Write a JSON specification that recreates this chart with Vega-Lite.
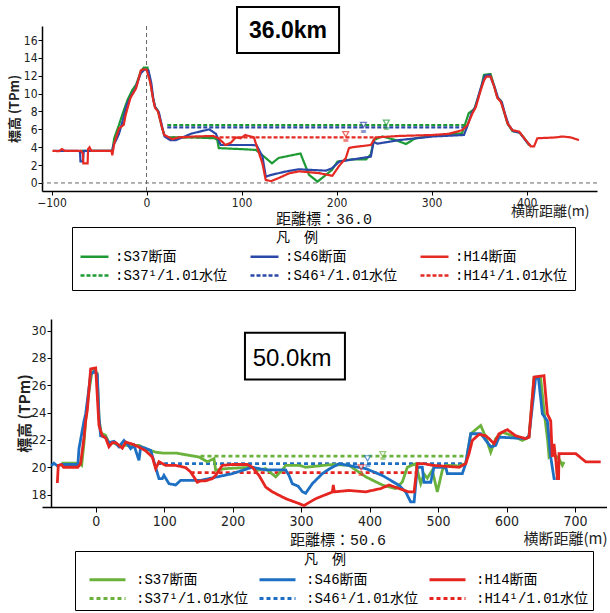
{
"$schema": "https://vega.github.io/schema/vega-lite/v6.json",
"background": "white",
"padding": {"left": 8, "top": 6, "right": 0, "bottom": 0},
"config": {"view": {"stroke": null},
  "axis": {"grid": false, "labelOverlap": false, "tickCount": 30, "format": "d", "domainColor": "black", "domainWidth": 1.5, "tickColor": "black", "tickWidth": 1, "labelColor": "#222", "titleColor": "#222", "labelFont": "Liberation Sans Narrow, DejaVu Sans Condensed, Liberation Sans, sans-serif", "titleFont": "Noto Sans CJK JP"}},
"spacing": 28,
"resolve": {"scale": {"x": "independent", "y": "independent", "color": "independent", "strokeDash": "independent", "stroke": "independent", "fill": "independent"}, "legend": {"color": "independent", "strokeDash": "independent"}},
"datasets": {
"top": [
{"s":":S37¹/1.01水位","x":21.8,"y":6.49},{"s":":S37¹/1.01水位","x":336,"y":6.49},
{"s":":S46¹/1.01水位","x":21.8,"y":6.23},{"s":":S46¹/1.01水位","x":336,"y":6.23},
{"s":":H14¹/1.01水位","x":20,"y":5.11},{"s":":H14¹/1.01水位","x":241,"y":5.11},
{"s":":S37断面","x":-70,"y":3.6},{"s":":S37断面","x":-36,"y":3.6},{"s":":S37断面","x":-35,"y":4.3},{"s":":S37断面","x":-34,"y":5.0},{"s":":S37断面","x":-29,"y":6.5},{"s":":S37断面","x":-25,"y":7.8},{"s":":S37断面","x":-20,"y":9.3},{"s":":S37断面","x":-15,"y":10.4},{"s":":S37断面","x":-11,"y":11.0},{"s":":S37断面","x":-6,"y":12.5},{"s":":S37断面","x":-3,"y":12.9},{"s":":S37断面","x":1,"y":12.9},{"s":":S37断面","x":4,"y":11.3},{"s":":S37断面","x":7,"y":9.4},{"s":":S37断面","x":9,"y":8.5},{"s":":S37断面","x":12,"y":8.1},{"s":":S37断面","x":16,"y":6.3},{"s":":S37断面","x":19,"y":5.3},{"s":":S37断面","x":22,"y":5.1},{"s":":S37断面","x":30,"y":5.1},{"s":":S37断面","x":50,"y":5.1},{"s":":S37断面","x":72,"y":5.0},{"s":":S37断面","x":74.5,"y":4.8},{"s":":S37断面","x":76,"y":3.9},{"s":":S37断面","x":97,"y":3.8},{"s":":S37断面","x":115,"y":3.7},{"s":":S37断面","x":122,"y":3.1},{"s":":S37断面","x":132,"y":2.2},{"s":":S37断面","x":139,"y":2.8},{"s":":S37断面","x":162,"y":3.3},{"s":":S37断面","x":171,"y":0.9},{"s":":S37断面","x":180,"y":0.15},{"s":":S37断面","x":195,"y":1.45},{"s":":S37断面","x":201,"y":2.4},{"s":":S37断面","x":217,"y":2.65},{"s":":S37断面","x":231,"y":2.65},{"s":":S37断面","x":236,"y":3.2},{"s":":S37断面","x":239,"y":4.8},{"s":":S37断面","x":248,"y":5.2},{"s":":S37断面","x":262,"y":4.8},{"s":":S37断面","x":273,"y":4.36},{"s":":S37断面","x":283,"y":5.0},{"s":":S37断面","x":301,"y":5.26},{"s":":S37断面","x":332,"y":5.56},{"s":":S37断面","x":339,"y":7.8},{"s":":S37断面","x":345,"y":8.3},{"s":":S37断面","x":352,"y":10.6},{"s":":S37断面","x":355,"y":12.1},{"s":":S37断面","x":362,"y":12.2},{"s":":S37断面","x":366,"y":10.8},{"s":":S37断面","x":369,"y":9.6},{"s":":S37断面","x":373,"y":9.2},{"s":":S37断面","x":376,"y":8.0},{"s":":S37断面","x":380,"y":6.6},{"s":":S37断面","x":385,"y":5.8},{"s":":S37断面","x":392,"y":5.7},{"s":":S37断面","x":399,"y":4.8},{"s":":S37断面","x":402,"y":4.3},{"s":":S37断面","x":404,"y":4.2},
{"s":":S46断面","x":-98,"y":3.6},{"s":":S46断面","x":-72,"y":3.6},{"s":":S46断面","x":-70,"y":3.5},{"s":":S46断面","x":-69.5,"y":2.4},{"s":":S46断面","x":-67,"y":2.4},{"s":":S46断面","x":-66,"y":3.6},{"s":":S46断面","x":-36,"y":3.6},{"s":":S46断面","x":-35,"y":4.2},{"s":":S46断面","x":-32,"y":4.8},{"s":":S46断面","x":-29,"y":5.5},{"s":":S46断面","x":-25,"y":7.0},{"s":":S46断面","x":-21,"y":8.7},{"s":":S46断面","x":-16,"y":9.8},{"s":":S46断面","x":-12,"y":10.5},{"s":":S46断面","x":-6,"y":12.3},{"s":":S46断面","x":-2,"y":12.7},{"s":":S46断面","x":2,"y":12.6},{"s":":S46断面","x":5,"y":11.2},{"s":":S46断面","x":7,"y":9.5},{"s":":S46断面","x":9,"y":8.5},{"s":":S46断面","x":13,"y":7.9},{"s":":S46断面","x":17,"y":6.0},{"s":":S46断面","x":19,"y":5.2},{"s":":S46断面","x":25,"y":4.8},{"s":":S46断面","x":31,"y":4.8},{"s":":S46断面","x":48,"y":5.55},{"s":":S46断面","x":66,"y":6.0},{"s":":S46断面","x":73,"y":5.5},{"s":":S46断面","x":78,"y":4.25},{"s":":S46断面","x":111,"y":4.25},{"s":":S46断面","x":116,"y":4.2},{"s":":S46断面","x":122,"y":2.95},{"s":":S46断面","x":125.5,"y":0.7},{"s":":S46断面","x":131,"y":0.9},{"s":":S46断面","x":146,"y":1.27},{"s":":S46断面","x":160,"y":1.53},{"s":":S46断面","x":189,"y":1.38},{"s":":S46断面","x":195,"y":1.64},{"s":":S46断面","x":203,"y":2.4},{"s":":S46断面","x":236,"y":2.95},{"s":":S46断面","x":239,"y":4.6},{"s":":S46断面","x":243,"y":4.4},{"s":":S46断面","x":266,"y":4.8},{"s":":S46断面","x":301,"y":5.2},{"s":":S46断面","x":334,"y":5.37},{"s":":S46断面","x":338,"y":6.5},{"s":":S46断面","x":342,"y":7.8},{"s":":S46断面","x":346,"y":8.5},{"s":":S46断面","x":351,"y":10.4},{"s":":S46断面","x":356,"y":12.0},{"s":":S46断面","x":361,"y":12.1},{"s":":S46断面","x":366,"y":10.8},{"s":":S46断面","x":370,"y":9.5},{"s":":S46断面","x":374,"y":9.0},{"s":":S46断面","x":377,"y":7.8},{"s":":S46断面","x":381,"y":6.5},{"s":":S46断面","x":386,"y":5.8},{"s":":S46断面","x":393,"y":5.6},{"s":":S46断面","x":400,"y":4.6},{"s":":S46断面","x":404,"y":4.2},
{"s":":H14断面","x":-99,"y":3.6},{"s":":H14断面","x":-92,"y":3.55},{"s":":H14断面","x":-89,"y":3.8},{"s":":H14断面","x":-86,"y":3.6},{"s":":H14断面","x":-69,"y":3.6},{"s":":H14断面","x":-67,"y":3.3},{"s":":H14断面","x":-66.5,"y":2.2},{"s":":H14断面","x":-62,"y":2.2},{"s":":H14断面","x":-61.5,"y":3.8},{"s":":H14断面","x":-60,"y":4.0},{"s":":H14断面","x":-58,"y":3.6},{"s":":H14断面","x":-37,"y":3.6},{"s":":H14断面","x":-36,"y":3.1},{"s":":H14断面","x":-34,"y":4.4},{"s":":H14断面","x":-29,"y":6.1},{"s":":H14断面","x":-24,"y":6.5},{"s":":H14断面","x":-22,"y":7.6},{"s":":H14断面","x":-17,"y":9.5},{"s":":H14断面","x":-11,"y":10.6},{"s":":H14断面","x":-6,"y":12.6},{"s":":H14断面","x":-4,"y":12.7},{"s":":H14断面","x":0,"y":12.7},{"s":":H14断面","x":4,"y":11.2},{"s":":H14断面","x":7,"y":9.3},{"s":":H14断面","x":9,"y":8.4},{"s":":H14断面","x":12,"y":8.0},{"s":":H14断面","x":16.6,"y":6.1},{"s":":H14断面","x":18.4,"y":5.4},{"s":":H14断面","x":22,"y":5.2},{"s":":H14断面","x":27,"y":4.9},{"s":":H14断面","x":34,"y":5.1},{"s":":H14断面","x":50,"y":5.2},{"s":":H14断面","x":70,"y":5.26},{"s":":H14断面","x":76,"y":5.0},{"s":":H14断面","x":83,"y":4.25},{"s":":H14断面","x":88.6,"y":4.5},{"s":":H14断面","x":94,"y":5.1},{"s":":H14断面","x":99,"y":5.0},{"s":":H14断面","x":104,"y":5.37},{"s":":H14断面","x":113,"y":5.1},{"s":":H14断面","x":116.6,"y":3.9},{"s":":H14断面","x":121.9,"y":2.2},{"s":":H14断面","x":125.4,"y":0.34},{"s":":H14断面","x":131,"y":0.2},{"s":":H14断面","x":139,"y":0.55},{"s":":H14断面","x":150,"y":1.08},{"s":":H14断面","x":160.5,"y":1.3},{"s":":H14断面","x":181.5,"y":1.1},{"s":":H14断面","x":195.5,"y":0.8},{"s":":H14断面","x":202.6,"y":1.9},{"s":":H14断面","x":209.6,"y":2.76},{"s":":H14断面","x":213,"y":3.9},{"s":":H14断面","x":216.6,"y":4.0},{"s":":H14断面","x":236,"y":4.25},{"s":":H14断面","x":241,"y":5.1},{"s":":H14断面","x":265.7,"y":5.26},{"s":":H14断面","x":300.8,"y":5.37},{"s":":H14断面","x":318,"y":5.5},{"s":":H14断面","x":332,"y":5.9},{"s":":H14断面","x":337.5,"y":6.45},{"s":":H14断面","x":343,"y":7.8},{"s":":H14断面","x":346.5,"y":8.5},{"s":":H14断面","x":351.7,"y":10.4},{"s":":H14断面","x":355.2,"y":11.5},{"s":":H14断面","x":357.6,"y":11.9},{"s":":H14断面","x":362.2,"y":11.9},{"s":":H14断面","x":365.7,"y":10.8},{"s":":H14断面","x":369.2,"y":9.5},{"s":":H14断面","x":372.7,"y":9.1},{"s":":H14断面","x":376.2,"y":8.0},{"s":":H14断面","x":379.7,"y":6.7},{"s":":H14断面","x":385,"y":5.9},{"s":":H14断面","x":392,"y":5.75},{"s":":H14断面","x":399,"y":4.8},{"s":":H14断面","x":404.3,"y":4.1},{"s":":H14断面","x":407.8,"y":4.1},{"s":":H14断面","x":411.2,"y":5.0},{"s":":H14断面","x":430.6,"y":5.1},{"s":":H14断面","x":437.6,"y":5.2},{"s":":H14断面","x":446.3,"y":5.1},{"s":":H14断面","x":455,"y":4.8}
],
"topMk": [
{"s":":S37¹/1.01水位","x":252.3,"y":6.75,"yl":6.0},
{"s":":S46¹/1.01水位","x":228.2,"y":6.5,"yl":5.75},
{"s":":H14¹/1.01水位","x":209.6,"y":5.45,"yl":4.7}
],
"bot": [
{"s":":S37¹/1.01水位","x":153,"y":20.82},{"s":":S37¹/1.01水位","x":540,"y":20.82},
{"s":":S46¹/1.01水位","x":89.6,"y":20.26},{"s":":S46¹/1.01水位","x":540,"y":20.26},
{"s":":H14¹/1.01水位","x":138.7,"y":19.6},{"s":":H14¹/1.01水位","x":467,"y":19.6},
{"s":":S37断面","x":-50,"y":20.3},{"s":":S37断面","x":-24.4,"y":20.3},{"s":":S37断面","x":-20.5,"y":20.14},{"s":":S37断面","x":-17,"y":21.8},{"s":":S37断面","x":-14.6,"y":23.5},{"s":":S37断面","x":-10,"y":25.5},{"s":":S37断面","x":-6,"y":26.8},{"s":":S37断面","x":-2.4,"y":27.1},{"s":":S37断面","x":2,"y":26.9},{"s":":S37断面","x":5,"y":23.5},{"s":":S37断面","x":8,"y":22.5},{"s":":S37断面","x":14.6,"y":22.33},{"s":":S37断面","x":20,"y":21.7},{"s":":S37断面","x":25,"y":21.8},{"s":":S37断面","x":34,"y":21.6},{"s":":S37断面","x":63.2,"y":21.6},{"s":":S37断面","x":75,"y":21.3},{"s":":S37断面","x":87.6,"y":21.1},{"s":":S37断面","x":97.3,"y":21.04},{"s":":S37断面","x":116.8,"y":21.04},{"s":":S37断面","x":150.9,"y":20.75},{"s":":S37断面","x":163,"y":20.4},{"s":":S37断面","x":172.8,"y":20.63},{"s":":S37断面","x":175.2,"y":19.78},{"s":":S37断面","x":190,"y":19.9},{"s":":S37断面","x":228.7,"y":20.0},{"s":":S37断面","x":236,"y":19.78},{"s":":S37断面","x":248,"y":19.9},{"s":":S37断面","x":262.9,"y":19.3},{"s":":S37断面","x":272.6,"y":19.8},{"s":":S37断面","x":277.5,"y":20.14},{"s":":S37断面","x":297,"y":20.14},{"s":":S37断面","x":306.7,"y":20.0},{"s":":S37断面","x":345.6,"y":20.2},{"s":":S37断面","x":370,"y":20.14},{"s":":S37断面","x":394.3,"y":19.3},{"s":":S37断面","x":418.6,"y":18.7},{"s":":S37断面","x":438.1,"y":18.44},{"s":":S37断面","x":447.8,"y":18.92},{"s":":S37断面","x":455.1,"y":20.0},{"s":":S37断面","x":467.2,"y":20.26},{"s":":S37断面","x":474.7,"y":18.8},{"s":":S37断面","x":479.4,"y":19.5},{"s":":S37断面","x":484.3,"y":19.2},{"s":":S37断面","x":491.6,"y":19.78},{"s":":S37断面","x":498.9,"y":18.19},{"s":":S37断面","x":506.2,"y":19.78},{"s":":S37断面","x":511,"y":20.14},{"s":":S37断面","x":530.6,"y":20.1},{"s":":S37断面","x":540.3,"y":20.26},{"s":":S37断面","x":547.7,"y":22.45},{"s":":S37断面","x":562.3,"y":23.06},{"s":":S37断面","x":569.6,"y":22.2},{"s":":S37断面","x":576.9,"y":21.1},{"s":":S37断面","x":584.2,"y":22.1},{"s":":S37断面","x":593.9,"y":22.57},{"s":":S37断面","x":608.6,"y":22.3},{"s":":S37断面","x":623.1,"y":21.96},{"s":":S37断面","x":632.8,"y":22.2},{"s":":S37断面","x":640.1,"y":26.5},{"s":":S37断面","x":649.9,"y":26.5},{"s":":S37断面","x":655,"y":24.0},{"s":":S37断面","x":660,"y":22.0},{"s":":S37断面","x":662.1,"y":20.75},{"s":":S37断面","x":668,"y":21.0},{"s":":S37断面","x":676.6,"y":20.6},{"s":":S37断面","x":681.5,"y":20.14},{"s":":S37断面","x":684,"y":20.4},
{"s":":S46断面","x":-65,"y":20.1},{"s":":S46断面","x":-61,"y":20.3},{"s":":S46断面","x":-56,"y":20.1},{"s":":S46断面","x":-50,"y":20.2},{"s":":S46断面","x":-26,"y":20.2},{"s":":S46断面","x":-24.4,"y":21.36},{"s":":S46断面","x":-17,"y":23.4},{"s":":S46断面","x":-14.6,"y":23.9},{"s":":S46断面","x":-7.3,"y":26.8},{"s":":S46断面","x":-2.4,"y":27.0},{"s":":S46断面","x":2.4,"y":26.8},{"s":":S46断面","x":4.8,"y":23.7},{"s":":S46断面","x":7.2,"y":22.3},{"s":":S46断面","x":14,"y":22.2},{"s":":S46断面","x":19.4,"y":21.8},{"s":":S46断面","x":26.7,"y":21.9},{"s":":S46断面","x":34,"y":21.5},{"s":":S46断面","x":41.3,"y":21.96},{"s":":S46断面","x":46.2,"y":21.7},{"s":":S46断面","x":51.1,"y":21.36},{"s":":S46断面","x":56,"y":21.6},{"s":":S46断面","x":63.2,"y":20.5},{"s":":S46断面","x":65.7,"y":21.5},{"s":":S46断面","x":72,"y":21.4},{"s":":S46断面","x":80.3,"y":21.24},{"s":":S46断面","x":87.6,"y":20.0},{"s":":S46断面","x":92.4,"y":19.17},{"s":":S46断面","x":97.3,"y":19.17},{"s":":S46断面","x":99.7,"y":19.4},{"s":":S46断面","x":107,"y":18.8},{"s":":S46断面","x":116.8,"y":18.7},{"s":":S46断面","x":124,"y":19.04},{"s":":S46断面","x":153.3,"y":19.04},{"s":":S46断面","x":199.5,"y":19.53},{"s":":S46断面","x":228.7,"y":20.0},{"s":":S46断面","x":248,"y":19.8},{"s":":S46断面","x":277.5,"y":19.8},{"s":":S46断面","x":282.3,"y":19.4},{"s":":S46断面","x":287.1,"y":18.8},{"s":":S46断面","x":296,"y":18.6},{"s":":S46断面","x":302,"y":18.2},{"s":":S46断面","x":306.7,"y":18.1},{"s":":S46断面","x":316.4,"y":18.8},{"s":":S46断面","x":331,"y":19.53},{"s":":S46断面","x":340.7,"y":19.86},{"s":":S46断面","x":355.4,"y":20.26},{"s":":S46断面","x":394.3,"y":19.9},{"s":":S46断面","x":418.6,"y":19.4},{"s":":S46断面","x":443,"y":18.68},{"s":":S46断面","x":452.7,"y":18.19},{"s":":S46断面","x":460,"y":17.46},{"s":":S46断面","x":465,"y":17.46},{"s":":S46断面","x":469.7,"y":20.0},{"s":":S46断面","x":477,"y":20.0},{"s":":S46断面","x":479.4,"y":18.9},{"s":":S46断面","x":489.3,"y":18.9},{"s":":S46断面","x":494,"y":20.0},{"s":":S46断面","x":511.3,"y":20.0},{"s":":S46断面","x":513.5,"y":19.53},{"s":":S46断面","x":535.4,"y":19.53},{"s":":S46断面","x":540.3,"y":20.26},{"s":":S46断面","x":547.7,"y":22.45},{"s":":S46断面","x":562.3,"y":22.45},{"s":":S46断面","x":576.9,"y":21.5},{"s":":S46断面","x":584.2,"y":21.6},{"s":":S46断面","x":589,"y":22.2},{"s":":S46断面","x":628,"y":22.1},{"s":":S46断面","x":632.8,"y":22.3},{"s":":S46断面","x":642.6,"y":26.6},{"s":":S46断面","x":646.5,"y":26.6},{"s":":S46断面","x":652.3,"y":23.9},{"s":":S46断面","x":659.6,"y":23.4},{"s":":S46断面","x":664.5,"y":20.75},{"s":":S46断面","x":669.4,"y":19.17},{"s":":S46断面","x":671.8,"y":19.17},
{"s":":H14断面","x":-56,"y":18.85},{"s":":H14断面","x":-54.6,"y":20.14},{"s":":H14断面","x":-50,"y":20.2},{"s":":H14断面","x":-47,"y":20.0},{"s":":H14断面","x":-26,"y":20.0},{"s":":H14断面","x":-22,"y":20.27},{"s":":H14断面","x":-17,"y":22.2},{"s":":H14断面","x":-14.6,"y":23.4},{"s":":H14断面","x":-12.2,"y":24.2},{"s":":H14断面","x":-7.3,"y":27.2},{"s":":H14断面","x":0,"y":27.27},{"s":":H14断面","x":4.8,"y":23.06},{"s":":H14断面","x":9.6,"y":22.3},{"s":":H14断面","x":14.5,"y":22.15},{"s":":H14断面","x":19.4,"y":21.5},{"s":":H14断面","x":24.3,"y":21.8},{"s":":H14断面","x":29.2,"y":21.8},{"s":":H14断面","x":34,"y":21.6},{"s":":H14断面","x":38.9,"y":21.4},{"s":":H14断面","x":43.8,"y":21.84},{"s":":H14断面","x":53.5,"y":21.7},{"s":":H14断面","x":63.2,"y":21.47},{"s":":H14断面","x":73,"y":21.2},{"s":":H14断面","x":82.7,"y":20.75},{"s":":H14断面","x":87.6,"y":19.9},{"s":":H14断面","x":92.4,"y":20.4},{"s":":H14断面","x":102.2,"y":20.14},{"s":":H14断面","x":116.8,"y":20.14},{"s":":H14断面","x":131.4,"y":19.97},{"s":":H14断面","x":138.7,"y":19.65},{"s":":H14断面","x":148.4,"y":18.9},{"s":":H14断面","x":153.3,"y":19.0},{"s":":H14断面","x":160,"y":19.0},{"s":":H14断面","x":170.3,"y":19.17},{"s":":H14断面","x":175.2,"y":19.4},{"s":":H14断面","x":184.9,"y":20.14},{"s":":H14断面","x":199.5,"y":20.2},{"s":":H14断面","x":221.4,"y":20.2},{"s":":H14断面","x":228.7,"y":20.0},{"s":":H14断面","x":238.5,"y":19.4},{"s":":H14断面","x":248.3,"y":18.55},{"s":":H14断面","x":258,"y":18.2},{"s":":H14断面","x":277.5,"y":17.7},{"s":":H14断面","x":297,"y":17.34},{"s":":H14断面","x":304.3,"y":17.2},{"s":":H14断面","x":321.3,"y":17.7},{"s":":H14断面","x":345.6,"y":18.19},{"s":":H14断面","x":347,"y":18.7},{"s":":H14断面","x":348.5,"y":18.2},{"s":":H14断面","x":370,"y":18.3},{"s":":H14断面","x":394.3,"y":18.2},{"s":":H14断面","x":416.2,"y":18.44},{"s":":H14断面","x":428.4,"y":18.7},{"s":":H14断面","x":443,"y":18.44},{"s":":H14断面","x":457.6,"y":18.19},{"s":":H14断面","x":465,"y":18.19},{"s":":H14断面","x":469.7,"y":20.26},{"s":":H14断面","x":479.4,"y":20.26},{"s":":H14断面","x":491.6,"y":20.14},{"s":":H14断面","x":530.6,"y":20.0},{"s":":H14断面","x":540.4,"y":20.26},{"s":":H14断面","x":545.2,"y":21.0},{"s":":H14断面","x":550,"y":21.96},{"s":":H14断面","x":559.8,"y":22.4},{"s":":H14断面","x":569.6,"y":22.3},{"s":":H14断面","x":574.4,"y":22.1},{"s":":H14断面","x":581.7,"y":21.73},{"s":":H14断面","x":589,"y":22.45},{"s":":H14断面","x":601.2,"y":22.75},{"s":":H14断面","x":613.4,"y":22.3},{"s":":H14断面","x":628,"y":22.1},{"s":":H14断面","x":632.8,"y":22.2},{"s":":H14断面","x":640.1,"y":26.6},{"s":":H14断面","x":654.7,"y":26.7},{"s":":H14断面","x":659.6,"y":23.9},{"s":":H14断面","x":664.5,"y":23.4},{"s":":H14断面","x":666.8,"y":20.75},{"s":":H14断面","x":669.3,"y":21.7},{"s":":H14断面","x":672,"y":20.5},{"s":":H14断面","x":674.2,"y":19.17},{"s":":H14断面","x":676,"y":19.17},{"s":":H14断面","x":676.6,"y":21.0},{"s":":H14断面","x":686.4,"y":21.0},{"s":":H14断面","x":701,"y":21.0},{"s":":H14断面","x":715.6,"y":20.4},{"s":":H14断面","x":737.5,"y":20.4}
],
"botMk": [
{"s":":S37¹/1.01水位","x":419.2,"y":20.96,"yl":20.62},
{"s":":S46¹/1.01水位","x":397,"y":20.65,"yl":20.1},
{"s":":H14¹/1.01水位","x":387.5,"y":19.99,"yl":19.45}
]
},
"vconcat": [
{
"width": 555, "height": 165,
"layer": [
{"data": {"values": [{}]}, "mark": {"type": "rule", "color": "#666", "strokeDash": [4, 3], "strokeWidth": 1}, "encoding": {"y": {"datum": 0, "type": "quantitative"}}},
{"data": {"values": [{}]}, "mark": {"type": "rule", "color": "#666", "strokeDash": [4, 3], "strokeWidth": 1}, "encoding": {"x": {"datum": 0, "type": "quantitative"}}},
{"data": {"name": "top"}, "mark": {"type": "line", "strokeWidth": 2.2, "clip": true},
 "encoding": {
  "x": {"field": "x", "type": "quantitative", "scale": {"domain": [-110, 474], "nice": false, "zero": false},
        "axis": {"values": [-100, 0, 100, 200, 300, 400], "format": "d", "tickCount": 30, "labelOverlap": false, "labelFontSize": 12, "tickSize": 4, "labelPadding": 2, "title": "横断距離(m)", "titleFontSize": 14, "titleFontWeight": "normal", "titleAnchor": "end", "titleAlign": "right", "titleBaseline": "middle", "titleX": 547, "titleY": 20}},
  "y": {"field": "y", "type": "quantitative", "scale": {"domain": [-0.9, 17.57], "nice": false, "zero": false},
        "axis": {"values": [0, 2, 4, 6, 8, 10, 12, 14, 16], "format": "d", "tickCount": 30, "labelOverlap": false, "labelFontSize": 12, "tickSize": 4, "labelPadding": 1, "title": "標高 (TPm)", "titleFontSize": 13, "titleFontWeight": "bold", "titleBaseline": "middle", "titleX": -28, "titleY": 82.5}},
  "color": {"field": "s", "type": "nominal",
    "scale": {"domain": [":S37断面", ":S46断面", ":H14断面", ":S37¹/1.01水位", ":S46¹/1.01水位", ":H14¹/1.01水位"], "range": ["#1e9a35", "#2a48a8", "#e42a22", "#1e9a35", "#2a48a8", "#e42a22"]},
    "legend": {"orient": "none", "legendX": 30, "legendY": 201, "direction": "horizontal", "columns": 3, "title": "　", "titleAnchor": "middle", "titleFont": "Noto Sans CJK JP", "titleFontSize": 14, "titleFontWeight": "normal", "titleColor": "black", "titlePadding": 0, "symbolType": "M-1,0H3", "symbolSize": 196, "symbolStrokeWidth": 2.5, "labelFont": "Liberation Mono, Noto Sans CJK JP", "labelFontSize": 14, "labelColor": "black", "labelOffset": 19, "labelLimit": 300, "columnPadding": 17, "rowPadding": 3, "strokeColor": "black", "padding": 7}},
  "strokeDash": {"field": "s", "type": "nominal",
    "scale": {"domain": [":S37断面", ":S46断面", ":H14断面", ":S37¹/1.01水位", ":S46¹/1.01水位", ":H14¹/1.01水位"], "range": [[1, 0], [1, 0], [1, 0], [4, 2], [4, 2], [4, 2]]},
    "legend": {"orient": "none", "legendX": 30, "legendY": 201, "direction": "horizontal", "columns": 3, "title": "　"}},
  "order": {"value": null}
 }},
{"data": {"name": "topMk"}, "mark": {"type": "point", "shape": "triangle-down", "size": 36, "filled": true, "fill": "white", "strokeWidth": 1.2},
 "encoding": {"x": {"field": "x", "type": "quantitative"}, "y": {"field": "y", "type": "quantitative"},
   "stroke": {"field": "s", "type": "nominal", "scale": {"domain": [":S37¹/1.01水位", ":S46¹/1.01水位", ":H14¹/1.01水位"], "range": ["#1e9a35", "#2a48a8", "#e42a22"]}, "legend": null}}},
{"data": {"name": "topMk"}, "mark": {"type": "text", "text": "≡", "fontSize": 8, "font": "DejaVu Sans"},
 "encoding": {"x": {"field": "x", "type": "quantitative"}, "y": {"field": "yl", "type": "quantitative"},
   "fill": {"field": "s", "type": "nominal", "scale": {"domain": [":S37¹/1.01水位", ":S46¹/1.01水位", ":H14¹/1.01水位"], "range": ["#1e9a35", "#2a48a8", "#e42a22"]}, "legend": null}}},
{"data": {"values": [{}]}, "mark": {"type": "rect", "fill": "white", "stroke": "black", "strokeWidth": 2},
 "encoding": {"x": {"datum": 95.2, "type": "quantitative"}, "x2": {"datum": 202.6}, "y": {"datum": 14.55, "type": "quantitative"}, "y2": {"datum": 19.69}}},
{"data": {"values": [{}]}, "mark": {"type": "text", "text": "36.0km", "font": "Liberation Sans", "fontSize": 23, "fontWeight": "bold", "color": "black", "baseline": "middle", "align": "center"},
 "encoding": {"x": {"datum": 148.9, "type": "quantitative"}, "y": {"datum": 17.0, "type": "quantitative"}}},
{"data": {"values": [{}]}, "mark": {"type": "text", "text": "距離標：36.0", "font": "Liberation Mono, Noto Sans CJK JP", "fontSize": 15, "color": "#111", "baseline": "middle", "align": "center"},
 "encoding": {"x": {"datum": 186.8, "type": "quantitative"}, "y": {"datum": -4.03, "type": "quantitative"}}},
{"data": {"values": [{}]}, "mark": {"type": "text", "text": "凡　例", "font": "Noto Sans CJK JP", "fontSize": 14, "color": "black", "baseline": "middle", "align": "center"},
 "encoding": {"x": {"datum": 158.4, "type": "quantitative"}, "y": {"datum": -6.15, "type": "quantitative"}}}
]
},
{
"width": 565, "height": 188,
"layer": [
{"data": {"name": "bot"}, "mark": {"type": "line", "strokeWidth": 2.8, "clip": true},
 "encoding": {
  "x": {"field": "x", "type": "quantitative", "scale": {"domain": [-78.4, 746.7], "nice": false, "zero": false},
        "axis": {"values": [0, 100, 200, 300, 400, 500, 600, 700], "format": "d", "tickCount": 30, "labelOverlap": false, "labelFontSize": 14, "tickSize": 5, "labelPadding": 2, "title": "横断距離(m)", "titleFontSize": 15, "titleFontWeight": "normal", "titleAnchor": "end", "titleAlign": "right", "titleBaseline": "middle", "titleX": 565, "titleY": 31}},
  "y": {"field": "y", "type": "quantitative", "scale": {"domain": [17.09, 30.85], "nice": false, "zero": false},
        "axis": {"values": [18, 20, 22, 24, 26, 28, 30], "format": "d", "tickCount": 30, "labelOverlap": false, "offset": -9, "labelFontSize": 13, "tickSize": 4, "labelPadding": 1, "title": "標高 (TPm)", "titleFontSize": 15, "titleFontWeight": "bold", "titleBaseline": "middle", "titleX": -27, "titleY": 94}},
  "color": {"field": "s", "type": "nominal",
    "scale": {"domain": [":S37断面", ":S46断面", ":H14断面", ":S37¹/1.01水位", ":S46¹/1.01水位", ":H14¹/1.01水位"], "range": ["#6ab23c", "#1d6fc4", "#e52520", "#6ab23c", "#1d6fc4", "#e52520"]},
    "legend": {"orient": "none", "legendX": 33, "legendY": 232, "direction": "horizontal", "columns": 3, "title": "　", "titleAnchor": "middle", "titleFont": "Noto Sans CJK JP", "titleFontSize": 14, "titleFontWeight": "normal", "titleColor": "black", "titlePadding": 0, "symbolType": "M-1,0M0,0H4", "symbolSize": 324, "symbolStrokeWidth": 3, "labelFont": "Liberation Mono, Noto Sans CJK JP", "labelFontSize": 14, "labelColor": "black", "labelOffset": 36, "labelLimit": 300, "columnPadding": -6, "rowPadding": 1, "strokeColor": "black", "padding": 4}},
  "strokeDash": {"field": "s", "type": "nominal",
    "scale": {"domain": [":S37断面", ":S46断面", ":H14断面", ":S37¹/1.01水位", ":S46¹/1.01水位", ":H14¹/1.01水位"], "range": [[1, 0], [1, 0], [1, 0], [4, 3], [4, 3], [4, 3]]},
    "legend": {"orient": "none", "legendX": 33, "legendY": 232, "direction": "horizontal", "columns": 3, "title": "　"}},
  "order": {"value": null}
 }},
{"data": {"name": "botMk"}, "mark": {"type": "point", "shape": "triangle-down", "size": 36, "filled": true, "fill": "white", "strokeWidth": 1.2},
 "encoding": {"x": {"field": "x", "type": "quantitative"}, "y": {"field": "y", "type": "quantitative"},
   "stroke": {"field": "s", "type": "nominal", "scale": {"domain": [":S37¹/1.01水位", ":S46¹/1.01水位", ":H14¹/1.01水位"], "range": ["#6ab23c", "#1d6fc4", "#e52520"]}, "legend": null}}},
{"data": {"name": "botMk"}, "mark": {"type": "text", "text": "≡", "fontSize": 8, "font": "DejaVu Sans"},
 "encoding": {"x": {"field": "x", "type": "quantitative"}, "y": {"field": "yl", "type": "quantitative"},
   "fill": {"field": "s", "type": "nominal", "scale": {"domain": [":S37¹/1.01水位", ":S46¹/1.01水位", ":H14¹/1.01水位"], "range": ["#6ab23c", "#1d6fc4", "#e52520"]}, "legend": null}}},
{"data": {"values": [{}]}, "mark": {"type": "rect", "fill": "white", "stroke": "black", "strokeWidth": 2},
 "encoding": {"x": {"datum": 218, "type": "quantitative"}, "x2": {"datum": 364}, "y": {"datum": 26.42, "type": "quantitative"}, "y2": {"datum": 29.85}}},
{"data": {"values": [{}]}, "mark": {"type": "text", "text": "50.0km", "font": "Liberation Sans, Arial", "fontSize": 24, "color": "black", "baseline": "middle", "align": "center"},
 "encoding": {"x": {"datum": 286.7, "type": "quantitative"}, "y": {"datum": 27.95, "type": "quantitative"}}},
{"data": {"values": [{}]}, "mark": {"type": "text", "text": "距離標：50.6", "font": "Liberation Mono, Noto Sans CJK JP", "fontSize": 15, "color": "#111", "baseline": "middle", "align": "center"},
 "encoding": {"x": {"datum": 353.9, "type": "quantitative"}, "y": {"datum": 14.65, "type": "quantitative"}}},
{"data": {"values": [{}]}, "mark": {"type": "text", "text": "凡　例", "font": "Noto Sans CJK JP", "fontSize": 14, "color": "black", "baseline": "middle", "align": "center"},
 "encoding": {"x": {"datum": 334.9, "type": "quantitative"}, "y": {"datum": 13.2, "type": "quantitative"}}}
]
}
]
}
